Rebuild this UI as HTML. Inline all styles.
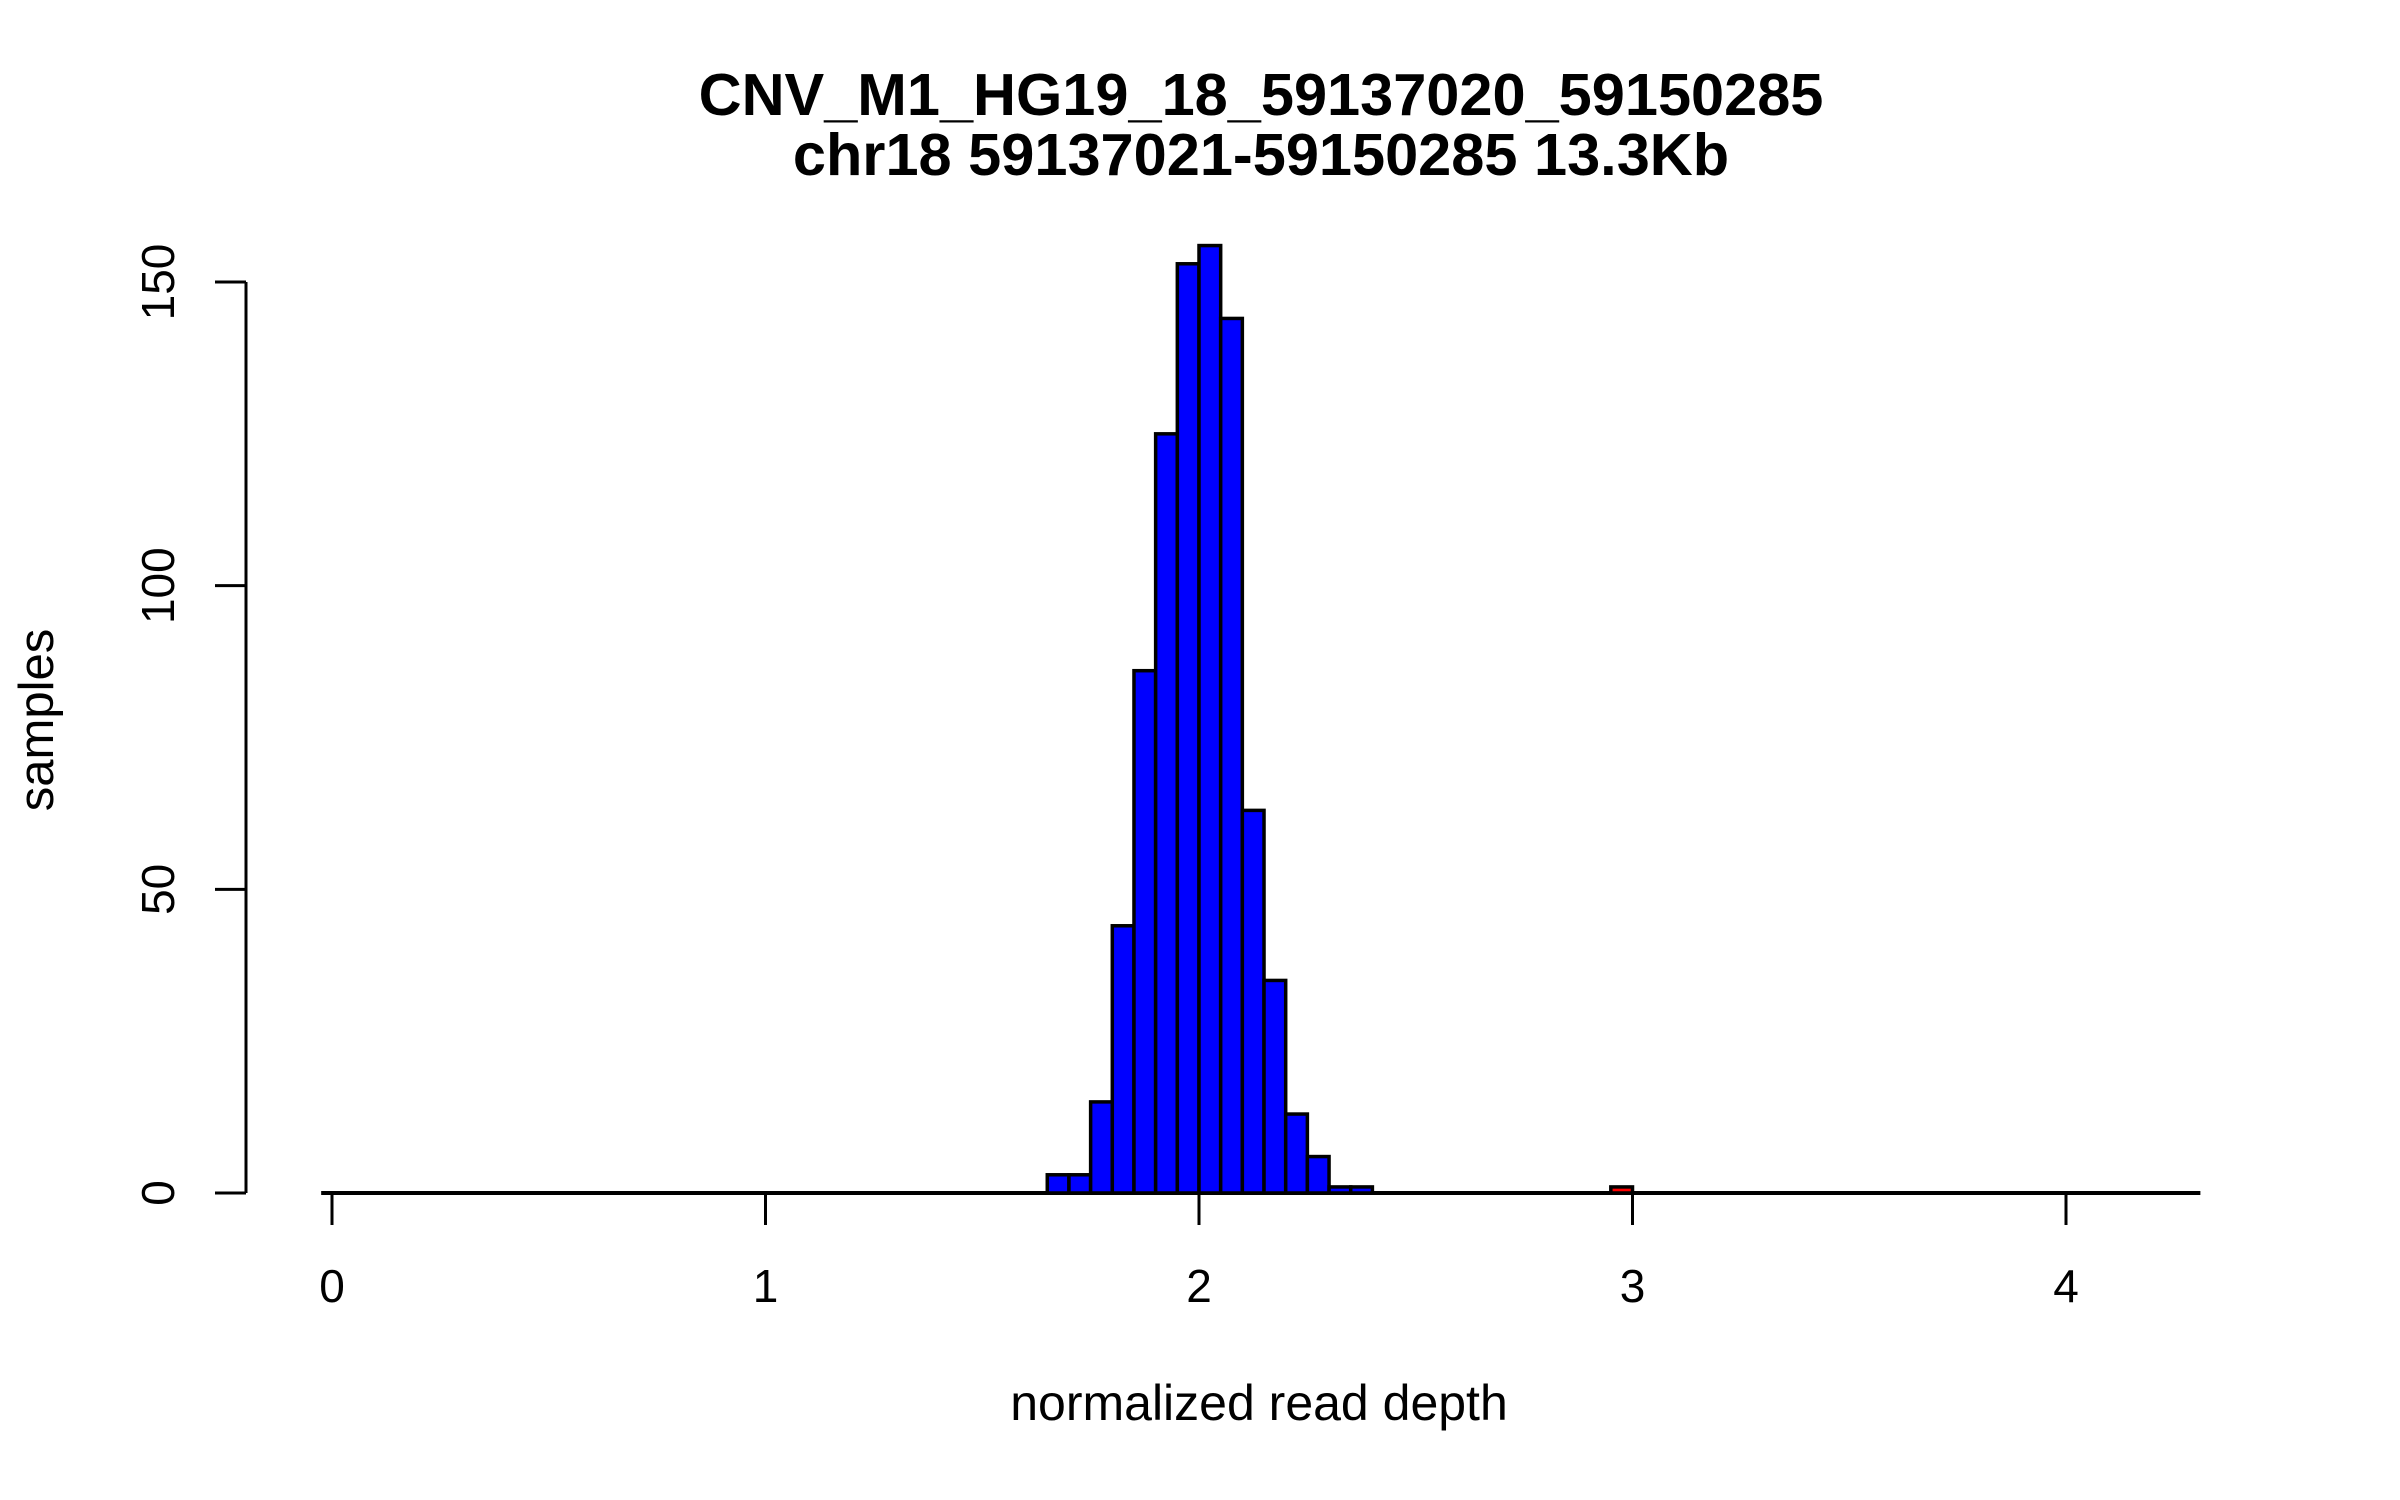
<!DOCTYPE html>
<html><head><meta charset="utf-8"><style>
html,body{margin:0;padding:0;background:#fff;}
svg{display:block;}
text{font-family:"Liberation Sans",sans-serif;fill:#000;}
</style></head><body>
<svg id="chart" width="2400" height="1500" viewBox="0 0 2400 1500" xmlns="http://www.w3.org/2000/svg">
<text x="1261" y="115" text-anchor="middle" font-size="59.5" font-weight="bold">CNV_M1_HG19_18_59137020_59150285</text>
<text x="1261" y="175" text-anchor="middle" font-size="59.5" font-weight="bold">chr18 59137021-59150285 13.3Kb</text>
<text x="1259" y="1420" text-anchor="middle" font-size="50">normalized read depth</text>
<text transform="translate(53,720) rotate(-90)" text-anchor="middle" font-size="49">samples</text>
<g id="bars"></g>
<g id="axes"></g>
</svg>
<script>
const binStarts = [1.65,1.70,1.75,1.80,1.85,1.90,1.95,2.00,2.05,2.10,2.15,2.20,2.25,2.30,2.35,2.95];
const binCounts = [3,3,15,44,86,125,153,156,144,63,35,13,6,1,1,1];
const binColors = ["blue","blue","blue","blue","blue","blue","blue","blue","blue","blue","blue","blue","blue","blue","blue","red"];
const binWidth = 0.05;
const xTicks = [0,1,2,3,4];
const yTicks = [0,50,100,150];
const xRange = [-0.025,4.31];

const NS = "http://www.w3.org/2000/svg";
const X0 = 332, XU = 433.5, Y0 = 1193, YU = (1193-282)/150;
function sx(v){return X0 + v*XU;}
function sy(v){return Y0 - v*YU;}
function mk(tag, attrs){const e=document.createElementNS(NS,tag);for(const k in attrs)e.setAttribute(k,attrs[k]);return e;}

const bars = document.getElementById('bars');
const axes = document.getElementById('axes');

const base = mk('line',{x1:sx(xRange[0]),x2:sx(xRange[1]),y1:Y0,y2:Y0,stroke:'#000','stroke-width':4});


bars.appendChild(base);

for(let i=0;i<binStarts.length;i++){
  const x1=sx(binStarts[i]), x2=sx(binStarts[i]+binWidth), yt=sy(binCounts[i]);
  const r = mk('rect',{x:x1,y:yt,width:x2-x1,height:Y0-yt,fill:binColors[i],stroke:'#000','stroke-width':3.5});
  
  
  bars.appendChild(r);
}

const xl = mk('line',{x1:sx(xTicks[0]),x2:sx(xTicks[xTicks.length-1]),y1:Y0,y2:Y0,stroke:'#000','stroke-width':3});


axes.appendChild(xl);
xTicks.forEach(t=>{
  const tk = mk('line',{x1:sx(t),x2:sx(t),y1:Y0,y2:Y0+32,stroke:'#000','stroke-width':3});
  
  
  axes.appendChild(tk);
  const lb = mk('text',{x:sx(t),y:1302,'text-anchor':'middle','font-size':46});
  lb.textContent = String(t);
  
  
  axes.appendChild(lb);
});

const yl = mk('line',{x1:246,x2:246,y1:sy(yTicks[0]),y2:sy(yTicks[yTicks.length-1]),stroke:'#000','stroke-width':3});


axes.appendChild(yl);
yTicks.forEach(t=>{
  const tk = mk('line',{x1:215,x2:246,y1:sy(t),y2:sy(t),stroke:'#000','stroke-width':3});
  
  
  axes.appendChild(tk);
  const lb = mk('text',{transform:'translate(174,'+sy(t)+') rotate(-90)','text-anchor':'middle','font-size':46});
  lb.textContent = String(t);
  
  
  axes.appendChild(lb);
});
</script>
</body></html>
